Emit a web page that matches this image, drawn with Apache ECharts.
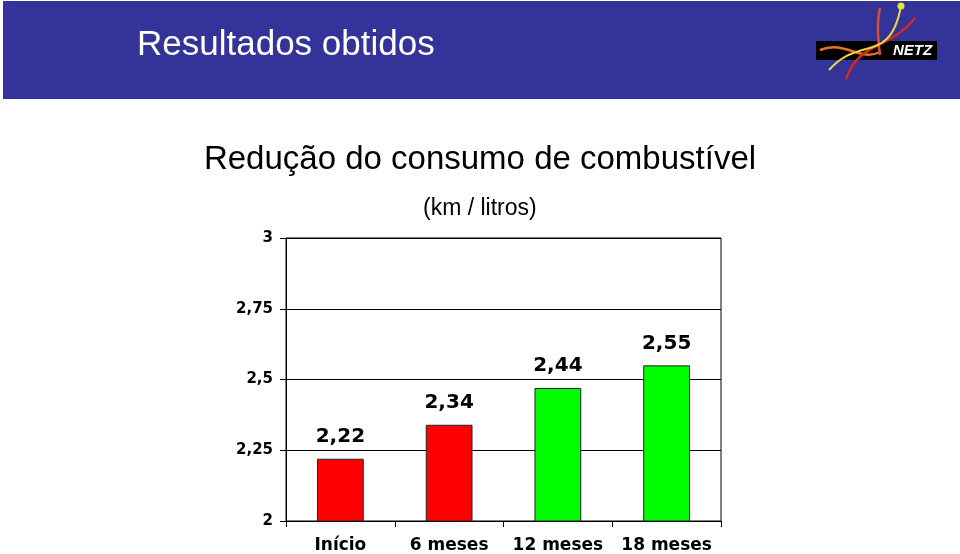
<!DOCTYPE html>
<html>
<head>
<meta charset="utf-8">
<script src="https://cdn.jsdelivr.net/npm/echarts@6/dist/echarts.min.js"></script>
<style>html,body{margin:0;padding:0;background:#fff}#c{width:960px;height:554px}</style>
</head>
<body>
<div id="c"></div>
<script>
var categories = ['Início', '6 meses', '12 meses', '18 meses'];
var values = [2.22, 2.34, 2.47, 2.55];
var valueLabels = ['2,22', '2,34', '2,44', '2,55'];
var barColors = ['#ff0000', '#ff0000', '#00ff00', '#00ff00'];
var yMin = 2, yMax = 3, yStep = 0.25;

var chart = echarts.init(document.getElementById('c'), null, {renderer: 'canvas'});
var font = 'Liberation Sans, Arial, Helvetica, sans-serif';
var boldFont = 'DejaVu Sans, Liberation Sans, Arial, sans-serif';

chart.setOption({
  animation: false,
  backgroundColor: '#ffffff',
  title: [
    {text: 'Redução do consumo de combustível', left: 'center', top: 138,
     textStyle: {fontFamily: font, fontSize: 33, fontWeight: 'normal', color: '#000'}},
    {text: '(km / litros)', left: 418, top: 192,
     textStyle: {fontFamily: font, fontSize: 23, fontWeight: 'normal', color: '#000'}}
  ],
  grid: {left: 286, right: 239, top: 238, bottom: 32, show: true, borderColor: '#000', borderWidth: 1, backgroundColor: 'transparent'},
  xAxis: {
    type: 'category', data: categories,
    axisLine: {lineStyle: {color: '#000', width: 1}},
    axisTick: {show: true, interval: 0, alignWithLabel: false, length: 6, lineStyle: {color: '#000'}},
    axisLabel: {interval: 0, hideOverlap: false, fontFamily: boldFont, fontSize: 17, fontWeight: 'bold', color: '#000', margin: 16}
  },
  yAxis: {
    type: 'value', min: yMin, max: yMax, interval: yStep,
    axisLine: {show: true, lineStyle: {color: '#000', width: 1}},
    axisTick: {show: true, length: 6, lineStyle: {color: '#000'}},
    splitLine: {show: true, lineStyle: {color: '#000', width: 1}},
    axisLabel: {fontFamily: boldFont, fontSize: 15, fontWeight: 'bold', color: '#000', margin: 13,
      formatter: function (v) { return String(v).replace('.', ','); }}
  },
  series: [{
    type: 'bar',
    barWidth: '43%',
    data: values.map(function (v, i) {
      return {value: v, itemStyle: {color: barColors[i], borderColor: '#222', borderWidth: 1}};
    }),
    label: {
      show: true, position: 'top', distance: 12,
      fontFamily: boldFont, fontSize: 20, fontWeight: 'bold', color: '#000',
      formatter: function (p) { return valueLabels[p.dataIndex]; }
    }
  }],
  graphic: [
    {type: 'rect', shape: {x: 3, y: 1, width: 957, height: 98}, style: {fill: '#333399'}, z: 0},
    {type: 'text', left: 137, top: 28, style: {text: 'Resultados obtidos', fill: '#ffffff', font: '35px ' + font}, z: 10},
    {type: 'rect', shape: {x: 816, y: 41, width: 121, height: 19}, style: {fill: '#000000'}, z: 5},
    {type: 'text', x: 893, y: 43, style: {text: 'NETZ', fill: '#ffffff', font: 'italic bold 15px ' + font}, z: 12},
    {type: 'bezierCurve', shape: {x1: 820, y1: 50, x2: 880, y2: 52, cpx1: 845, cpy1: 40, cpx2: 860, cpy2: 62}, style: {stroke: '#e8702a', lineWidth: 2.5, fill: 'none'}, z: 11},
    {type: 'bezierCurve', shape: {x1: 846, y1: 79, x2: 915, y2: 18, cpx1: 860, cpy1: 40, cpx2: 890, cpy2: 50}, style: {stroke: '#d42a20', lineWidth: 2.5, fill: 'none'}, z: 11},
    {type: 'bezierCurve', shape: {x1: 880, y1: 55, x2: 880, y2: 8, cpx1: 878, cpy1: 40, cpx2: 877, cpy2: 20}, style: {stroke: '#e24a30', lineWidth: 2.5, fill: 'none'}, z: 11},
    {type: 'bezierCurve', shape: {x1: 829, y1: 70, x2: 901, y2: 6, cpx1: 860, cpy1: 35, cpx2: 890, cpy2: 65}, style: {stroke: '#e8d840', lineWidth: 2, fill: 'none'}, z: 11},
    {type: 'circle', shape: {cx: 901, cy: 6, r: 3.5}, style: {fill: '#e8e040'}, z: 12}
  ]
});
</script>
</body>
</html>
